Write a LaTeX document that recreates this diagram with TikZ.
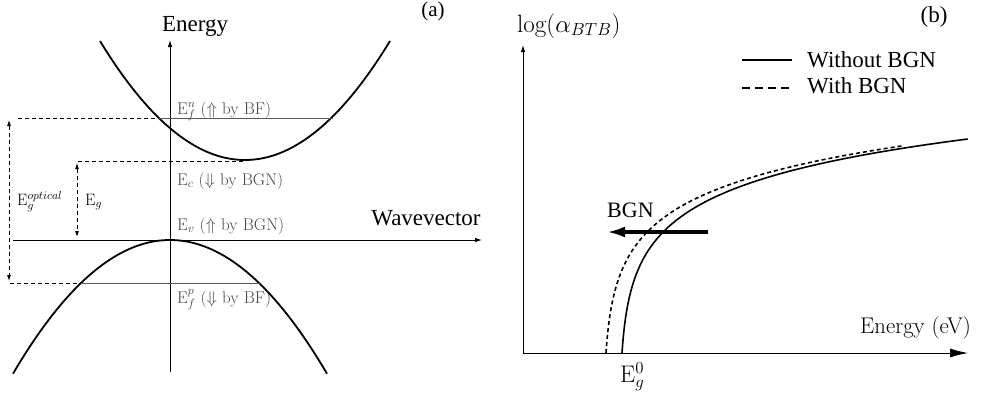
\RequirePackage{fix-cm}
\documentclass[tikz,border=0pt]{standalone}
\usepackage{fontspec}
\newfontfamily\tms{Liberation Serif}
\usetikzlibrary{arrows.meta}
\begin{document}
\begin{tikzpicture}[x=1pt,y=-1pt,
  axis/.style={line width=0.9pt},
  band/.style={line width=1.8pt},
  lvl/.style={line width=0.8pt, black!65},
  dsh/.style={line width=0.8pt, dash pattern=on 4pt off 3pt},
  curve/.style={line width=1.6pt},
  dcurve/.style={line width=1.6pt, dash pattern=on 4pt off 3pt},
  glabel/.style={black!72, anchor=base west, inner sep=0pt, font=\fontsize{17}{19}\selectfont},
  clabel/.style={anchor=base west, inner sep=0pt, font=\fontsize{16.5}{18}\selectfont},
  tlabel/.style={anchor=base, inner sep=0pt, font=\tms\fontsize{23}{25}\selectfont},
  smalltip/.style={-{Latex[length=7pt,width=4.5pt]}},
  dbltip/.style={{Latex[length=6pt,width=4pt]}-{Latex[length=6pt,width=4pt]}},
]
\useasboundingbox (0,0) rectangle (1003,399);

% ---------- panel (a) ----------
\coordinate (eb) at (170,372);
\coordinate (et) at (170,40);
\draw[axis, smalltip] (eb) -- (et);
\node[tlabel] (energy) at (195,31) {Energy};
\coordinate (wl) at (13,240);
\coordinate (wr) at (482,240);
\draw[axis, smalltip] (wl) -- (wr);
\node[tlabel] (wave) at (426,225) {Wavevector};
\node[tlabel, font=\tms\fontsize{21}{23}\selectfont] (pa) at (433,16) {(a)};

% bands
\draw[band] plot[domain=100:390, samples=80] (\x, {160 - 119*((\x-245)/145)^2});
\draw[band] plot[domain=13:327, samples=80] (\x, {240 + 132*((\x-170)/156)^2});

% levels
\coordinate (fn0) at (18,118); \coordinate (fn1) at (159,118); \coordinate (fn2) at (333,118);
\draw[dsh] (fn0) -- (fn1);
\draw[lvl] (fn1) -- (fn2);
\coordinate (ec0) at (78,161); \coordinate (ec1) at (245,161);
\draw[dsh] (ec0) -- (ec1);
\coordinate (fp0) at (10,283); \coordinate (fp1) at (81,283); \coordinate (fp2) at (260,283);
\draw[dsh] (fp0) -- (fp1);
\draw[lvl] (fp1) -- (fp2);

% gap arrows
\coordinate (go0) at (9,120); \coordinate (go1) at (9,281);
\draw[dsh, dbltip] (go0) -- (go1);
\coordinate (g0) at (77,163); \coordinate (g1) at (77,237);
\draw[dsh, dbltip] (g0) -- (g1);
\node[clabel] (egopt) at (17,205) {E$_g^{optical}$};
\node[clabel] (eg) at (85,205) {E$_g$};

% gray labels
\node[glabel] (lfn) at (177,114) {E$_f^n$ ($\Uparrow$ by BF)};
\node[glabel] (lec) at (177,185) {E$_c$ ($\Downarrow$ by BGN)};
\node[glabel] (lev) at (177,230) {E$_v$ ($\Uparrow$ by BGN)};
\node[glabel] (lfp) at (177,303) {E$_f^p$ ($\Downarrow$ by BF)};

% ---------- panel (b) ----------
\coordinate (o) at (523,353);
\coordinate (yt) at (523,45);
\coordinate (xt) at (968,353);
\draw[axis, smalltip] (o) -- (yt);
\draw[axis, -{Latex[length=18pt,width=9pt]}] (o) -- (xt);
\node[anchor=base west, inner sep=0pt, font=\fontsize{25}{27}\selectfont] (ylab) at (517,32) {$\log(\alpha_{BTB})$};
\node[tlabel] (pb) at (934,22) {(b)};
\node[anchor=base west, inner sep=0pt, font=\fontsize{22.7}{25}\selectfont] (xlab) at (860,333) {Energy (eV)};
\node[anchor=base west, inner sep=0pt, font=\fontsize{24}{26}\selectfont] (eg0) at (620,382) {E$_g^0$};

% legend
\coordinate (l1a) at (742,60); \coordinate (l1b) at (792,60);
\draw[line width=1.8pt] (l1a) -- (l1b);
\node[tlabel, anchor=base west] (lg1) at (807,67) {Without BGN};
\coordinate (l2a) at (742,88); \coordinate (l2b) at (792,88);
\draw[line width=1.6pt, dash pattern=on 8pt off 5pt] (l2a) -- (l2b);
\node[tlabel, anchor=base west] (lg2) at (807,93) {With BGN};

% curves
\draw[curve] plot[domain=0:4.756, samples=120] ({622+3*(exp(\x)-1)}, {353-45*\x});
\draw[dcurve] plot[domain=0:4.605, samples=120] ({606+3*(exp(\x)-1)}, {353-45*\x});

% BGN shift arrow
\coordinate (ba) at (708,232); \coordinate (bb) at (607,232);
\draw[line width=3.4pt, -{Latex[length=18pt,width=11pt]}] (ba) -- (bb);
\node[tlabel, anchor=base west, font=\tms\fontsize{22}{24}\selectfont] (bgn) at (607,217) {BGN};
\end{tikzpicture}
\end{document}
